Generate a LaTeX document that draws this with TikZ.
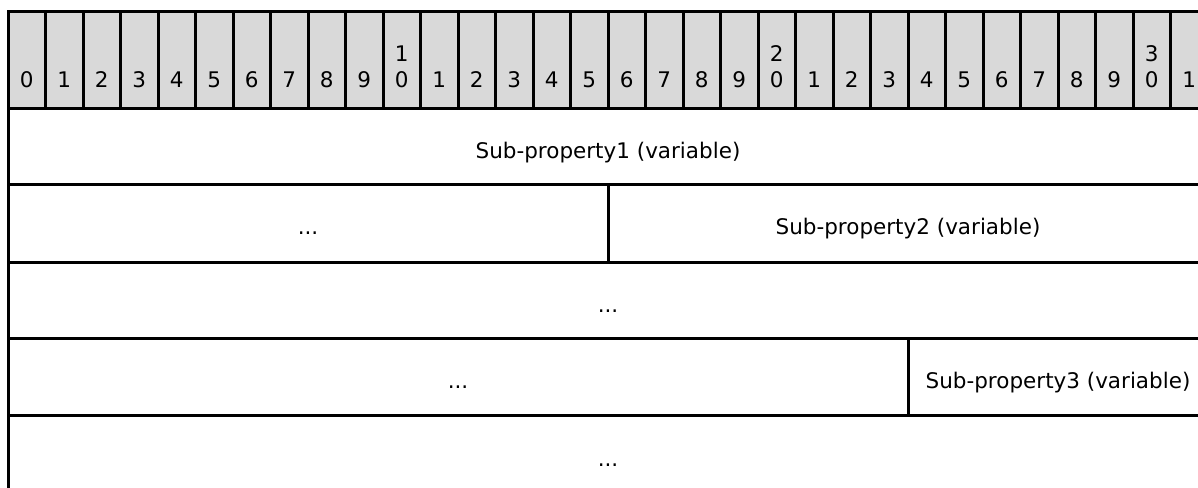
\documentclass[tikz,border=0pt]{standalone}
\usepackage{fontspec}
\setmainfont{DejaVu Sans}
\definecolor{hdr}{RGB}{217,217,217}
\tikzset{
  grid/.style={line width=3pt, draw=black},
  bitnum/.style={anchor=south, inner sep=0pt, align=center, font=\fontsize{21.5}{26}\selectfont},
  field/.style={anchor=base, inner sep=0pt, font=\fontsize{21.5}{26}\selectfont},
}
\begin{document}
\begin{tikzpicture}[x=1pt,y=-1pt]
\useasboundingbox (0,0) rectangle (1198,487);
\clip (0,0) rectangle (1198,487);
% header cells
\foreach \i in {0,...,31} {
  \filldraw[fill=hdr, grid] ({8+37.5*\i},12) rectangle ++(37.5,96);
}
\foreach \i in {0,...,31} {
  \pgfmathtruncatemacro\unitd{mod(\i,10)}
  \pgfmathtruncatemacro\tensd{\i/10}
  \ifnum\unitd=0
    \ifnum\i>0 \def\lab{\tensd\\0}\else\def\lab{0}\fi
  \else
    \def\lab{\unitd}
  \fi
  \node[bitnum] (b\i) at ({8+37.5*\i+18.75},88) {\lab};
}
% field grid
\draw[grid] (8,108) -- (8,500);
\draw[grid] (8,184) -- (1212,184);
\draw[grid] (8,262) -- (1212,262);
\draw[grid] (8,338) -- (1212,338);
\draw[grid] (8,415) -- (1212,415);
\draw[grid] (608,184) -- (608,262);
\draw[grid] (908,338) -- (908,415);
% field labels
\node[field] (f1) at (608,158) {Sub-property1 (variable)};
\node[field] (f2a) at (308,234) {...};
\node[field] (f2b) at (908,234) {Sub-property2 (variable)};
\node[field] (f3) at (608,312) {...};
\node[field] (f4a) at (458,388) {...};
\node[field] (f4b) at (1058,388) {Sub-property3 (variable)};
\node[field] (f5) at (608,466) {...};
\end{tikzpicture}
\end{document}
